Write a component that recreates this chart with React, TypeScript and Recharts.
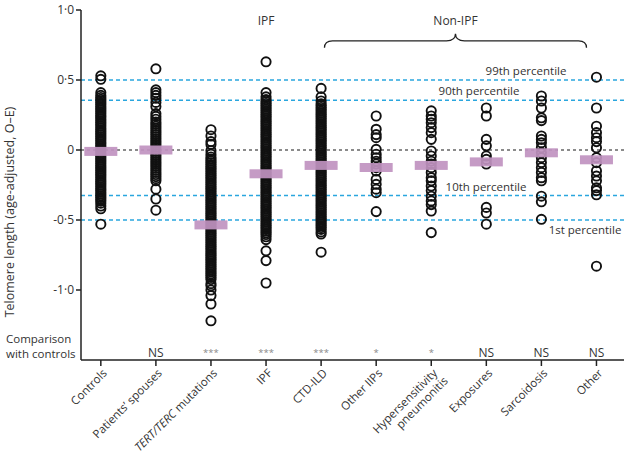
import { ComposedChart, Scatter, XAxis, YAxis, ReferenceLine, ReferenceDot } from "recharts"

const FONT = "'Open Sans', 'Noto Sans', sans-serif"

// categories along the x axis
const categories = [
  ["Controls"],
  ["Patients’ spouses"],
  ["TERT/TERC mutations"],
  ["IPF"],
  ["CTD-ILD"],
  ["Other IIPs"],
  ["Hypersensitivity", "pneumonitis"],
  ["Exposures"],
  ["Sarcoidosis"],
  ["Other"],
]

// telomere length (age-adjusted, O-E) per group
const controls = [
  0.53, 0.505, 0.41, 0.39, 0.375, 0.362, 0.35, 0.337, 0.325, 0.311, 0.298, 0.286, 0.273, 0.26, 0.247,
  0.235, 0.222, 0.209, 0.196, 0.184, 0.171, 0.158, 0.145, 0.133, 0.12, 0.107, 0.095, 0.082, 0.069, 0.056,
  0.044, 0.031, 0.018, 0.005, -0.008, -0.021, -0.033, -0.046, -0.059, -0.072, -0.084, -0.097, -0.11,
  -0.123, -0.135, -0.148, -0.161, -0.174, -0.186, -0.199, -0.212, -0.225, -0.237, -0.25, -0.263, -0.276,
  -0.288, -0.301, -0.314, -0.327, -0.339, -0.352, -0.365, -0.38, -0.4, -0.42, -0.53,
]
const spouses = [
  0.58, 0.43, 0.41, 0.39, 0.37, 0.34, 0.31, 0.26, 0.24, 0.22, 0.2, 0.185, 0.17, 0.155, 0.14, 0.125, 0.11,
  0.095, 0.08, 0.065, 0.05, 0.035, 0.02, 0.005, -0.01, -0.025, -0.04, -0.055, -0.07, -0.085, -0.1, -0.115,
  -0.13, -0.145, -0.16, -0.175, -0.19, -0.205, -0.22, -0.28, -0.35, -0.43,
]
const tertTerc = [
  0.145, 0.1, 0.06, 0.04, -0.005, -0.03, -0.05, -0.065, -0.078, -0.091, -0.104, -0.117, -0.13, -0.143,
  -0.156, -0.169, -0.182, -0.195, -0.208, -0.221, -0.234, -0.247, -0.26, -0.273, -0.286, -0.299, -0.312,
  -0.325, -0.338, -0.351, -0.364, -0.377, -0.39, -0.403, -0.416, -0.429, -0.442, -0.455, -0.468, -0.481,
  -0.494, -0.507, -0.52, -0.533, -0.546, -0.559, -0.572, -0.585, -0.598, -0.611, -0.624, -0.637, -0.65,
  -0.663, -0.676, -0.689, -0.702, -0.715, -0.728, -0.741, -0.754, -0.767, -0.78, -0.793, -0.806, -0.819,
  -0.832, -0.845, -0.858, -0.871, -0.884, -0.897, -0.91, -0.925, -0.955, -0.97, -1.0, -1.04, -1.1, -1.22,
]
const ipf = [
  0.63, 0.41, 0.38, 0.36, 0.345, 0.332, 0.319, 0.306, 0.293, 0.28, 0.267, 0.254, 0.241, 0.228, 0.215,
  0.202, 0.189, 0.176, 0.163, 0.15, 0.137, 0.124, 0.111, 0.098, 0.085, 0.072, 0.059, 0.046, 0.033, 0.02,
  0.007, -0.006, -0.019, -0.032, -0.045, -0.058, -0.071, -0.084, -0.097, -0.11, -0.123, -0.136, -0.149,
  -0.162, -0.175, -0.188, -0.201, -0.214, -0.227, -0.24, -0.253, -0.266, -0.279, -0.292, -0.305, -0.318,
  -0.331, -0.344, -0.357, -0.37, -0.383, -0.396, -0.409, -0.422, -0.435, -0.448, -0.461, -0.474, -0.487,
  -0.5, -0.513, -0.526, -0.539, -0.552, -0.565, -0.578, -0.591, -0.604, -0.62, -0.64, -0.72, -0.79, -0.95,
]
const ctdIld = [
  0.44, 0.38, 0.35, 0.33, 0.317, 0.304, 0.291, 0.278, 0.265, 0.252, 0.239, 0.226, 0.213, 0.2, 0.187,
  0.174, 0.161, 0.148, 0.135, 0.122, 0.109, 0.096, 0.083, 0.07, 0.057, 0.044, 0.031, 0.018, 0.005, -0.008,
  -0.021, -0.034, -0.047, -0.06, -0.073, -0.086, -0.099, -0.112, -0.125, -0.138, -0.151, -0.164, -0.177,
  -0.19, -0.203, -0.216, -0.229, -0.242, -0.255, -0.268, -0.281, -0.294, -0.307, -0.32, -0.333, -0.346,
  -0.359, -0.372, -0.385, -0.398, -0.411, -0.424, -0.437, -0.45, -0.463, -0.476, -0.489, -0.502, -0.515,
  -0.528, -0.541, -0.554, -0.567, -0.585, -0.6, -0.73,
]
const otherIips = [
  0.243, 0.148, 0.11, 0.088, 0.005, -0.03, -0.055, -0.08, -0.1, -0.126, -0.15, -0.21, -0.245, -0.28,
  -0.305, -0.44,
]
const hypersensitivity = [
  0.28, 0.243, 0.22, 0.195, 0.16, 0.124, 0.076, -0.007, -0.043, -0.08, -0.1, -0.126, -0.16, -0.198, -0.22,
  -0.257, -0.29, -0.33, -0.364, -0.39, -0.436, -0.59,
]
const exposures = [0.3, 0.243, 0.076, 0.03, -0.043, -0.067, -0.1, -0.41, -0.45, -0.53]
const sarcoidosis = [
  0.386, 0.35, 0.3, 0.23, 0.21, 0.1, 0.076, 0.052, 0.016, -0.02, -0.055, -0.09, -0.126, -0.16, -0.198,
  -0.22, -0.33, -0.37, -0.495,
]
const other = [
  0.52, 0.3, 0.17, 0.124, 0.088, 0.06, 0.016, -0.055, -0.09, -0.15, -0.186, -0.22, -0.27, -0.29, -0.32,
  -0.83,
]

const groups = [controls, spouses, tertTerc, ipf, ctdIld, otherIips, hypersensitivity, exposures, sarcoidosis, other]
const medians = [-0.01, 0.0, -0.535, -0.17, -0.11, -0.125, -0.11, -0.085, -0.02, -0.07]
const comparison = ["", "NS", "***", "***", "***", "*", "*", "NS", "NS", "NS"]

const percentileValues = [0.5, 0.355, -0.325, -0.5]
const percentileLabels = ["99th percentile", "90th percentile", "10th percentile", "1st percentile"]

const yTicks = [1, 0.5, 0, -0.5, -1]
const yTickLabels = ["1·0", "0·5", "0", "-0·5", "-1·0"]

const points = groups.flatMap((vals, i) => vals.map((v) => ({ x: i, y: v })))
const medianPoints = medians.map((m, i) => ({ x: i, y: m }))

// label placement for the percentile lines (x in px, dy from the line)
const pctPlacement = [
  { x: 526, dy: -5 },
  { x: 479, dy: -5 },
  { x: 486, dy: -5 },
  { x: 585, dy: 14 },
]

const Ring = (props: any) => (
  <circle cx={props.cx} cy={props.cy} r={4.6} fill="none" stroke="#111" strokeWidth={1.9} />
)

const MedianBar = (props: any) => (
  <rect x={props.cx - 16.5} y={props.cy - 4.5} width={33} height={9} fill="#c093c0" fillOpacity={0.92} />
)

const CatTick = (props: any) => {
  const { x, y, payload } = props
  const lines = categories[payload.value] || []
  return (
    <g transform={`translate(${x + 4},${y + 3}) rotate(-45)`}>
      {lines.map((line, k) => (
        <text
          key={k}
          x={k * 2}
          y={k * 13}
          dy="0.35em"
          textAnchor="end"
          fontSize={11.5}
          fontFamily={FONT}
          fill="#333"
        >
          {line === "TERT/TERC mutations" ? (
            <>
              <tspan fontStyle="italic">TERT/TERC</tspan> mutations
            </>
          ) : (
            line
          )}
        </text>
      ))}
    </g>
  )
}

const YTitle = () => (
  <g fontFamily={FONT} fill="#333">
    <text transform="translate(14,212) rotate(-90)" textAnchor="middle" fontSize={12.5}>
      Telomere length (age-adjusted, O–E)
    </text>
    <text x={6} y={343} fontSize={11.5}>
      Comparison
    </text>
    <text x={6} y={358} fontSize={11.5}>
      with controls
    </text>
  </g>
)

const PctLabel = (props: any) => {
  const { viewBox, text, px, dy } = props
  return (
    <text x={px} y={viewBox.y + dy} textAnchor="middle" fontSize={11.5} fontFamily={FONT} fill="#333">
      {text}
    </text>
  )
}

const Brace = (props: any) => {
  const { cx, cy } = props
  const w = 131
  return (
    <path
      d={`M ${cx - w} ${cy + 7} Q ${cx - w} ${cy} ${cx - w + 8} ${cy} L ${cx - 9} ${cy} Q ${cx} ${cy} ${cx} ${cy - 7} Q ${cx} ${cy} ${cx + 9} ${cy} L ${cx + w - 8} ${cy} Q ${cx + w} ${cy} ${cx + w} ${cy + 7}`}
      fill="none"
      stroke="#222"
      strokeWidth={1.3}
    />
  )
}

const TextMark = (text: string, size: number, color: string) => (props: any) => (
  <text x={props.cx} y={props.cy} dy="0.35em" textAnchor="middle" fontSize={size} fontFamily={FONT} fill={color}>
    {text}
  </text>
)

export default function App() {
  return (
    <div style={{ position: "absolute", left: 0, top: 0, width: 624, height: 459, background: "#fff" }}>
      <ComposedChart width={624} height={459} margin={{ top: 10, right: 0, bottom: 0, left: 0 }}>
        <XAxis
          type="number"
          dataKey="x"
          domain={[-0.36, 9.5]}
          ticks={[0, 1, 2, 3, 4, 5, 6, 7, 8, 9]}
          interval={0}
          allowDataOverflow
          height={99}
          tick={<CatTick />}
          tickSize={6}
          axisLine={{ stroke: "#222", strokeWidth: 1.5 }}
          tickLine={{ stroke: "#222", strokeWidth: 1.5 }}
        />
        <YAxis
          type="number"
          dataKey="y"
          domain={[-1.5, 1]}
          ticks={yTicks}
          interval={0}
          allowDataOverflow
          width={81}
          tickSize={5}
          tickFormatter={(v: number) => yTickLabels[yTicks.indexOf(v)] ?? ""}
          tick={{ fill: "#333", fontSize: 12, fontFamily: FONT }}
          axisLine={{ stroke: "#222", strokeWidth: 1.5 }}
          tickLine={{ stroke: "#222", strokeWidth: 1.5 }}
          label={<YTitle />}
        />
        <Scatter data={points} shape={<Ring />} isAnimationActive={false} />
        <Scatter data={medianPoints} shape={<MedianBar />} isAnimationActive={false} />
        <ReferenceLine y={0} stroke="#666" strokeDasharray="3 3" strokeWidth={1.5} />
        {percentileValues.map((v, i) => (
          <ReferenceLine
            key={v}
            y={v}
            stroke="#2aa6de"
            strokeDasharray="4 3"
            strokeWidth={1.5}
            label={<PctLabel text={percentileLabels[i]} px={pctPlacement[i].x} dy={pctPlacement[i].dy} />}
          />
        ))}
        {comparison.map((c, i) =>
          c ? (
            <ReferenceDot
              key={i}
              x={i}
              y={-1.45}
              r={0}
              shape={TextMark(c, c === "NS" ? 12 : 9.5, c === "NS" ? "#333" : "#888")}
            />
          ) : null
        )}
        <ReferenceDot x={3} y={0.92} r={0} shape={TextMark("IPF", 12, "#333")} />
        <ReferenceDot x={6.44} y={0.92} r={0} shape={TextMark("Non-IPF", 12, "#333")} />
        <ReferenceDot x={6.44} y={0.78} r={0} shape={<Brace />} />
      </ComposedChart>
    </div>
  )
}
